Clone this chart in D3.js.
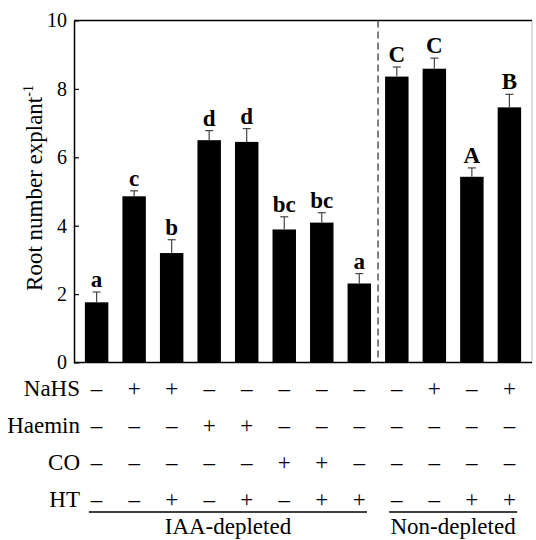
<!DOCTYPE html>
<html>
<head>
<meta charset="utf-8">
<script src="https://cdn.jsdelivr.net/npm/d3@7"></script>
<style>
  html, body { margin: 0; padding: 0; background: #fff; }
  svg { display: block; }
  svg text { font-family: "Liberation Serif", "DejaVu Serif", serif; }
</style>
</head>
<body>
<svg width="536" height="540"></svg>
<script>
"use strict";

// Bar means and SE
const bars = ["1", "2", "3", "4", "5", "6", "7", "8", "9", "10", "11", "12"];
const means = [1.76, 4.86, 3.2, 6.5, 6.45, 3.89, 4.09, 2.31, 8.36, 8.59, 5.43, 7.46];
const errors = [0.3, 0.16, 0.39, 0.28, 0.39, 0.37, 0.29, 0.29, 0.28, 0.31, 0.26, 0.38];
const letters = ["a", "c", "b", "d", "d", "bc", "bc", "a", "C", "C", "A", "B"];
const yTicks = [0, 2, 4, 6, 8, 10];

// Treatment table under the bars
const rowNames = ["NaHS", "Haemin", "CO", "HT"];
const NaHS = ["–", "+", "+", "–", "–", "–", "–", "–", "–", "+", "–", "+"];
const Haemin = ["–", "–", "–", "+", "+", "–", "–", "–", "–", "–", "–", "–"];
const CO = ["–", "–", "–", "–", "–", "+", "+", "–", "–", "–", "–", "–"];
const HT = ["–", "–", "+", "–", "+", "–", "+", "+", "–", "–", "+", "+"];
const groups = ["IAA-depleted", "Non-depleted"];
const groupSpans = [["1", "8"], ["9", "12"]];

const FONT = "Liberation Serif";
const svg = d3.select("svg");
const plotLeft = 74, plotRight = 532, plotTop = 20.5, plotBottom = 362.5;

const x = d3.scaleBand()
  .domain(bars)
  .range([plotLeft, plotRight])
  .paddingInner(0.375)
  .paddingOuter(0.29);

const y = d3.scaleLinear().domain([0, 10]).range([plotBottom, plotTop]);

// frame: right border is light grey
svg.append("line")
  .attr("x1", plotRight).attr("x2", plotRight)
  .attr("y1", plotTop).attr("y2", plotBottom)
  .attr("stroke", "#bbb").attr("stroke-width", 1);
svg.append("line")
  .attr("x1", plotLeft).attr("x2", plotRight)
  .attr("y1", plotTop).attr("y2", plotTop)
  .attr("stroke", "#000").attr("stroke-width", 1.5);

// dashed separator between the groups
const sepX = (x("8") + x.bandwidth() + x("9")) / 2;
svg.append("line")
  .attr("x1", sepX).attr("x2", sepX)
  .attr("y1", plotTop).attr("y2", plotBottom)
  .attr("stroke", "#555").attr("stroke-width", 1.5)
  .attr("stroke-dasharray", "7,4");

// bars
svg.selectAll("rect.bar")
  .data(bars)
  .enter()
  .append("rect")
  .attr("class", "bar")
  .attr("x", d => x(d))
  .attr("y", (d, i) => y(means[i]))
  .attr("width", x.bandwidth())
  .attr("height", (d, i) => plotBottom - y(means[i]))
  .attr("fill", "#000");

// error bars (upper only)
const err = svg.append("g").attr("stroke", "#444").attr("stroke-width", 1.2);
bars.forEach((d, i) => {
  const cx = x(d) + x.bandwidth() / 2;
  err.append("line")
    .attr("x1", cx).attr("x2", cx)
    .attr("y1", y(means[i])).attr("y2", y(means[i] + errors[i]));
  err.append("line")
    .attr("x1", cx - 4).attr("x2", cx + 4)
    .attr("y1", y(means[i] + errors[i])).attr("y2", y(means[i] + errors[i]));
});

// significance letters
svg.selectAll("text.sig")
  .data(bars)
  .enter()
  .append("text")
  .attr("class", "sig")
  .attr("x", d => x(d) + x.bandwidth() / 2)
  .attr("y", (d, i) => y(means[i] + errors[i]) - 5)
  .attr("text-anchor", "middle")
  .attr("font-size", 23)
  .attr("font-weight", "bold")
  .text((d, i) => letters[i]);

// y axis with inward ticks
const yAxis = d3.axisLeft(y).tickValues(yTicks).tickSizeInner(-5).tickSizeOuter(0).tickPadding(7);
const gy = svg.append("g").attr("transform", `translate(${plotLeft},0)`).call(yAxis);
gy.attr("font-family", FONT).attr("font-size", 20);
gy.select(".domain").attr("stroke-width", 1.5);
gy.selectAll(".tick line").attr("stroke-width", 1.2);
gy.selectAll(".tick text").attr("fill", "#000");

// x axis line only
const xAxis = d3.axisBottom(x).tickSize(0).tickFormat("");
const gx = svg.append("g").attr("transform", `translate(0,${plotBottom})`).call(xAxis);
gx.select(".domain").attr("d", `M${plotLeft},0H${plotRight}`).attr("stroke-width", 1.5);

// y title
const title = svg.append("text")
  .attr("transform", "translate(42,188) rotate(-90)")
  .attr("text-anchor", "middle")
  .attr("font-size", 23);
title.append("tspan").text("Root number explant");
title.append("tspan").attr("dy", -9).attr("font-size", 14).text("-1");

// treatment table
const rows = [NaHS, Haemin, CO, HT];
const rowY = [396, 433, 470, 507];
rows.forEach((signs, r) => {
  svg.append("text")
    .attr("x", 80)
    .attr("y", rowY[r])
    .attr("text-anchor", "end")
    .attr("font-size", 23)
    .text(rowNames[r]);
  svg.selectAll(null)
    .data(bars)
    .enter()
    .append("text")
    .attr("x", d => x(d) + x.bandwidth() / 2)
    .attr("y", rowY[r])
    .attr("text-anchor", "middle")
    .attr("font-size", 23)
    .text((d, i) => signs[i]);
});

// group underlines and names
groups.forEach((g, k) => {
  const x1 = x(groupSpans[k][0]) + 4;
  const x2 = x(groupSpans[k][1]) + x.bandwidth() - 4;
  svg.append("line")
    .attr("x1", x1).attr("x2", x2)
    .attr("y1", 512).attr("y2", 512)
    .attr("stroke", "#000").attr("stroke-width", 1.5);
  svg.append("text")
    .attr("x", (x1 + x2) / 2)
    .attr("y", 534)
    .attr("text-anchor", "middle")
    .attr("font-size", 23)
    .text(g);
});

svg.selectAll("text").attr("font-family", FONT).attr("fill", "#000");
</script>
</body>
</html>
